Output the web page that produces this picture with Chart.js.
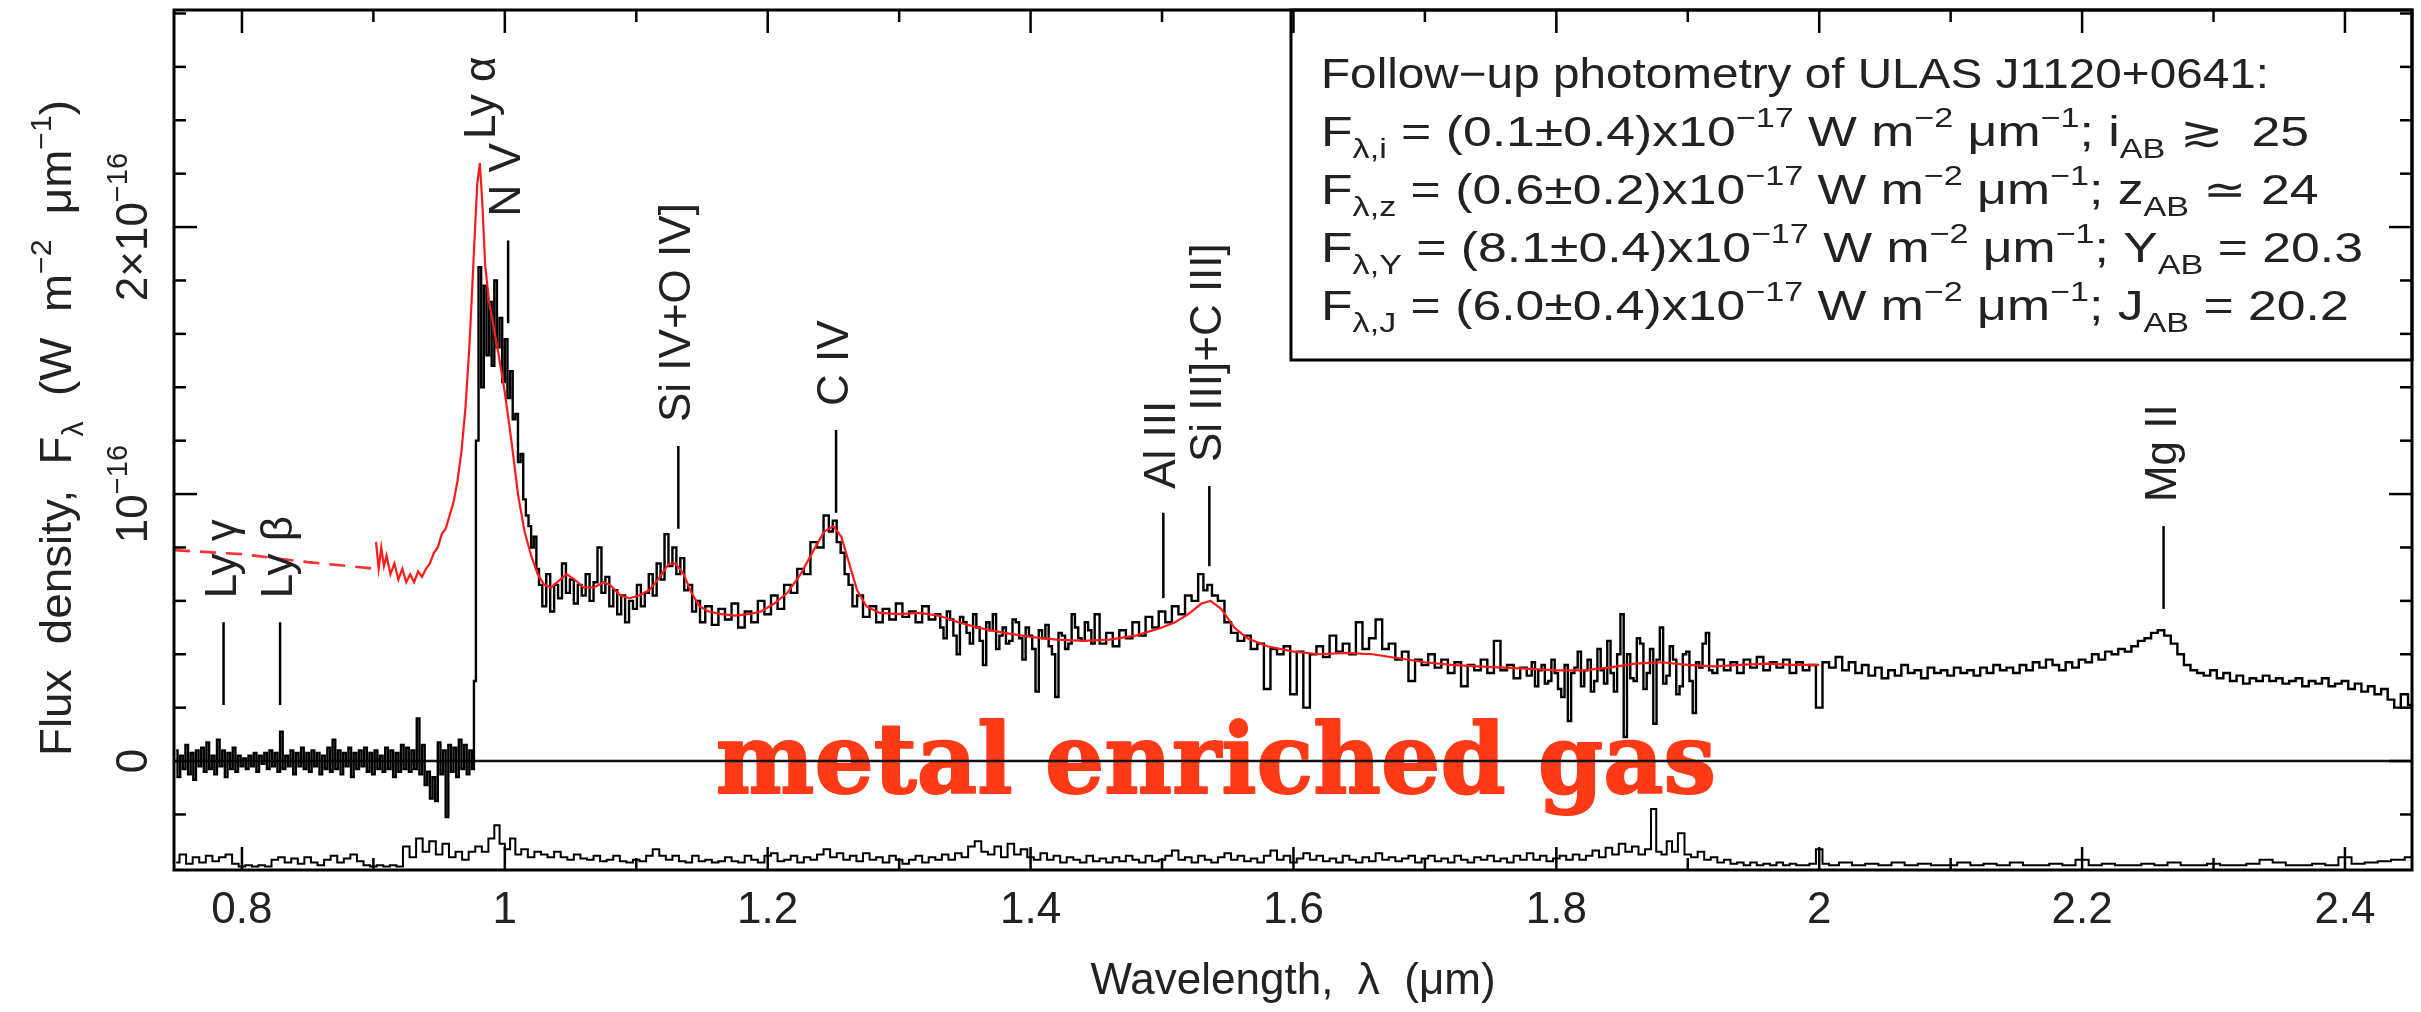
<!DOCTYPE html>
<html>
<head>
<meta charset="utf-8">
<script src="https://cdn.jsdelivr.net/npm/chart.js@4.4.0/dist/chart.umd.min.js"></script>
<style>
  html, body { margin: 0; padding: 0; background: #fff; }
  #wrap { width: 2421px; height: 1012px; }
</style>
</head>
<body>
<div id="wrap"><canvas id="spec" width="2421" height="1012"></canvas></div>
<script>
window.onload = drawSpectrum;

// flux in units of 1e-16 W m^-2 um^-1, wavelength in um
var xMin = 0.7483, xMax = 2.451, yMin = -0.408, yMax = 2.813;

var xMajorTicks = [0.8, 1.0, 1.2, 1.4, 1.6, 1.8, 2.0, 2.2, 2.4];
var xTickLabels = ["0.8", "1", "1.2", "1.4", "1.6", "1.8", "2", "2.2", "2.4"];
var xMinorTicks = [0.9, 1.1, 1.3, 1.5, 1.7, 1.9, 2.1, 2.3];
var yMajorTicks = [0, 1, 2];
var yTickLabels = [[["0", ""]], [["10", ""], ["\u221216", "sup"]], [["2\u00d710", ""], ["\u221216", "sup"]]];
var yMinorTicks = [-0.2, 0.2, 0.4, 0.6, 0.8, 1.2, 1.4, 1.6, 1.8, 2.2, 2.4, 2.6, 2.8];

// observed spectrum
var specWave = [
  0.750, 0.752, 0.754, 0.756, 0.758, 0.760, 0.762, 0.764, 0.766, 0.768,
  0.770, 0.772, 0.774, 0.776, 0.778, 0.780, 0.782, 0.784, 0.786, 0.788,
  0.790, 0.792, 0.794, 0.796, 0.798, 0.800, 0.802, 0.804, 0.806, 0.808,
  0.810, 0.812, 0.814, 0.816, 0.818, 0.820, 0.822, 0.824, 0.826, 0.828,
  0.830, 0.832, 0.834, 0.836, 0.838, 0.840, 0.842, 0.844, 0.846, 0.848,
  0.850, 0.852, 0.854, 0.856, 0.858, 0.860, 0.862, 0.864, 0.866, 0.868,
  0.870, 0.872, 0.874, 0.876, 0.878, 0.880, 0.882, 0.884, 0.886, 0.888,
  0.890, 0.892, 0.894, 0.896, 0.898, 0.900, 0.902, 0.904, 0.906, 0.908,
  0.910, 0.912, 0.914, 0.916, 0.918, 0.920, 0.922, 0.924, 0.926, 0.928,
  0.930, 0.932, 0.934, 0.936, 0.938, 0.940, 0.942, 0.944, 0.946, 0.948,
  0.950, 0.952, 0.954, 0.956, 0.958, 0.960, 0.962, 0.964, 0.966, 0.968,
  0.970, 0.972, 0.974, 0.976, 0.977, 0.979,
  0.981, 0.983, 0.985, 0.987, 0.989, 0.991, 0.993, 0.995, 0.997, 0.999,
  1.001, 1.003, 1.005, 1.007, 1.009, 1.011, 1.013, 1.015, 1.017, 1.019,
  1.021, 1.023, 1.025, 1.027, 1.030, 1.033, 1.036, 1.039, 1.042, 1.045,
  1.048, 1.051, 1.054, 1.057, 1.060, 1.063, 1.066, 1.069, 1.072, 1.075,
  1.078, 1.081, 1.084, 1.087, 1.090, 1.093, 1.096, 1.099, 1.102, 1.105,
  1.108, 1.111, 1.114, 1.117, 1.120, 1.123, 1.126, 1.129, 1.132, 1.135,
  1.138, 1.141, 1.144, 1.147, 1.150, 1.155, 1.160, 1.165, 1.170, 1.175,
  1.180, 1.185, 1.190, 1.195, 1.200, 1.205, 1.210, 1.215, 1.220, 1.225,
  1.230, 1.235, 1.240, 1.245, 1.248, 1.251, 1.254, 1.257, 1.260, 1.263,
  1.266, 1.270, 1.275, 1.280, 1.285, 1.290, 1.295, 1.300, 1.305, 1.310,
  1.315, 1.320, 1.325,
  1.3300, 1.3325, 1.3350, 1.3375, 1.3400, 1.3425, 1.3450, 1.3475, 1.3500, 1.3525,
  1.3550, 1.3575, 1.3600, 1.3625, 1.3650, 1.3675, 1.3700, 1.3725, 1.3750, 1.3775,
  1.3800, 1.3825, 1.3850, 1.3875, 1.3900, 1.3925, 1.3950, 1.3975, 1.4000, 1.4025,
  1.4050, 1.4075, 1.4100, 1.4125, 1.4150, 1.4175, 1.4200, 1.4225, 1.4250, 1.4275,
  1.4300, 1.4325, 1.4350, 1.4375, 1.4400, 1.4425, 1.4450, 1.4475,
  1.450, 1.455, 1.460,
  1.465, 1.470, 1.475, 1.480, 1.485, 1.490, 1.495, 1.500, 1.505, 1.510,
  1.515, 1.520, 1.525, 1.530, 1.533, 1.536, 1.540, 1.545, 1.550, 1.555,
  1.560, 1.565, 1.570, 1.575, 1.580, 1.585, 1.590, 1.595, 1.600, 1.605,
  1.610, 1.615, 1.620, 1.625, 1.630, 1.635, 1.640, 1.645, 1.650, 1.655,
  1.660, 1.665, 1.670, 1.675, 1.680, 1.685, 1.690, 1.695, 1.700, 1.705,
  1.710, 1.715, 1.720, 1.725, 1.730, 1.735, 1.740, 1.745, 1.750, 1.755,
  1.760, 1.765, 1.770, 1.775,
  1.7800, 1.7825, 1.7850, 1.7875, 1.7900, 1.7925, 1.7950, 1.7975, 1.8000, 1.8025,
  1.8050, 1.8075, 1.8100, 1.8125, 1.8150, 1.8175, 1.8200, 1.8225, 1.8250, 1.8275,
  1.8300, 1.8325, 1.8350, 1.8375, 1.8400, 1.8425, 1.8450, 1.8475, 1.8500, 1.8525,
  1.8550, 1.8575, 1.8600, 1.8625, 1.8650, 1.8675, 1.8700, 1.8725, 1.8750, 1.8775,
  1.8800, 1.8825, 1.8850, 1.8875, 1.8900, 1.8925, 1.8950, 1.8975, 1.9000, 1.9025,
  1.9050, 1.9075, 1.9100, 1.9125, 1.9150, 1.9175,
  1.920, 1.925, 1.930, 1.935, 1.940, 1.945, 1.950,
  1.955, 1.960, 1.965, 1.970, 1.975, 1.980, 1.985, 1.990, 1.995, 2.000,
  2.005, 2.010, 2.015, 2.020, 2.025, 2.030, 2.035, 2.040, 2.045, 2.050,
  2.055, 2.060, 2.065, 2.070, 2.075, 2.080, 2.085, 2.090, 2.095, 2.100,
  2.105, 2.110, 2.115, 2.120, 2.125, 2.130, 2.135, 2.140, 2.145, 2.150,
  2.155, 2.160, 2.165, 2.170, 2.175, 2.180, 2.185, 2.190, 2.195, 2.200,
  2.205, 2.210, 2.215, 2.220, 2.225, 2.230, 2.235, 2.240, 2.245, 2.250,
  2.255, 2.260, 2.265, 2.270, 2.275, 2.280, 2.285, 2.290, 2.295, 2.300,
  2.305, 2.310, 2.315, 2.320, 2.325, 2.330, 2.335, 2.340, 2.345, 2.350,
  2.355, 2.360, 2.365, 2.370, 2.375, 2.380, 2.385, 2.390, 2.395, 2.400,
  2.405, 2.410, 2.415, 2.420, 2.425, 2.430, 2.435, 2.440, 2.445, 2.451
];
var specFlux = [
  0.04, -0.06, 0.02, -0.03, 0.06, -0.05, 0.03, -0.07, 0.04, -0.02,
  0.05, -0.04, 0.07, -0.03, 0.02, -0.05, 0.08, -0.02, 0.04, -0.06,
  0.03, -0.03, 0.05, -0.04, 0.02, -0.02, 0.01, -0.03, 0.02, -0.02,
  0.03, -0.04, 0.02, -0.01, 0.03, -0.03, 0.04, -0.02, 0.03, -0.04,
  0.11, -0.03, 0.02, -0.02, 0.04, -0.05, 0.03, -0.02, 0.05, -0.03,
  0.03, -0.04, 0.04, -0.02, 0.03, -0.05, 0.02, -0.03, 0.05, -0.04,
  0.08, -0.03, 0.04, -0.05, 0.03, -0.02, 0.05, -0.06, 0.03, -0.03,
  0.04, -0.02, 0.05, -0.04, 0.03, -0.05, 0.04, -0.03, 0.02, -0.04,
  0.05, -0.03, 0.04, -0.06, 0.03, -0.04, 0.06, -0.03, 0.05, -0.04,
  0.04, -0.03, 0.16, -0.05, 0.06, -0.09, -0.04, -0.14, -0.06, -0.15,
  0.07, -0.05, 0.04, -0.21, 0.06, -0.04, 0.05, -0.06, 0.08, -0.03,
  0.06, -0.05, 0.04, -0.03, 0.30, 1.20,
  1.85, 1.40, 1.78, 1.52, 1.72, 1.48, 1.80, 1.55, 1.66, 1.42,
  1.58, 1.36, 1.46, 1.28, 1.30, 1.12, 1.15, 0.98, 0.92, 0.88,
  0.80, 0.84, 0.72, 0.66, 0.58, 0.70, 0.56, 0.66, 0.61, 0.74,
  0.63, 0.68, 0.59, 0.66, 0.62, 0.70, 0.60, 0.67, 0.80, 0.63,
  0.69, 0.58, 0.64, 0.55, 0.62, 0.52, 0.60, 0.57, 0.66, 0.58,
  0.63, 0.70, 0.62, 0.74, 0.68, 0.85, 0.73, 0.80, 0.70, 0.76,
  0.64, 0.66, 0.56, 0.60, 0.52, 0.58, 0.51, 0.57, 0.53, 0.59,
  0.50, 0.56, 0.52, 0.60, 0.55, 0.62, 0.57, 0.66, 0.63, 0.72,
  0.70, 0.82, 0.80, 0.92, 0.86, 0.90, 0.82, 0.78, 0.70, 0.66,
  0.58, 0.62, 0.54, 0.58, 0.52, 0.57, 0.53, 0.59, 0.54, 0.56,
  0.52, 0.58, 0.53,
  0.55, 0.50, 0.46, 0.56, 0.53, 0.47, 0.40, 0.54, 0.52, 0.48,
  0.44, 0.55, 0.50, 0.45, 0.36, 0.52, 0.49, 0.55, 0.42, 0.47,
  0.50, 0.44, 0.45, 0.53, 0.52, 0.46, 0.38, 0.50, 0.47, 0.42,
  0.26, 0.49, 0.46, 0.51, 0.43, 0.40, 0.24, 0.48, 0.47, 0.42,
  0.44, 0.55, 0.50, 0.46, 0.45, 0.52, 0.49, 0.44,
  0.55, 0.44, 0.48,
  0.43, 0.49, 0.46, 0.52, 0.47, 0.54, 0.50, 0.56, 0.52, 0.58,
  0.55, 0.62, 0.60, 0.70, 0.64, 0.66, 0.62, 0.60, 0.52, 0.48,
  0.45, 0.47, 0.42, 0.44, 0.27, 0.42, 0.40, 0.43, 0.25, 0.41,
  0.20, 0.40, 0.43, 0.39, 0.47, 0.41, 0.44, 0.40, 0.52, 0.42,
  0.46, 0.53, 0.42, 0.44, 0.38, 0.41, 0.30, 0.38, 0.36, 0.40,
  0.35, 0.38, 0.33, 0.37, 0.28, 0.36, 0.34, 0.38, 0.33, 0.45,
  0.34, 0.36, 0.31, 0.35,
  0.32, 0.37, 0.28, 0.34, 0.36, 0.29, 0.30, 0.38, 0.33, 0.27,
  0.24, 0.36, 0.15, 0.33, 0.35, 0.41, 0.28, 0.34, 0.38, 0.26,
  0.30, 0.42, 0.34, 0.29, 0.45, 0.33, 0.26, 0.40, 0.55, 0.09,
  0.40, 0.31, 0.30, 0.46, 0.44, 0.27, 0.33, 0.42, 0.14, 0.38,
  0.50, 0.29, 0.32, 0.43, 0.38, 0.25, 0.28, 0.40, 0.41, 0.30,
  0.18, 0.37, 0.35, 0.44, 0.48, 0.34,
  0.33, 0.38, 0.34, 0.37, 0.33, 0.38, 0.35,
  0.39, 0.34, 0.37, 0.35, 0.38, 0.33, 0.37, 0.34, 0.36, 0.20,
  0.37, 0.35, 0.39, 0.34, 0.37, 0.33, 0.36, 0.32, 0.35, 0.31,
  0.34, 0.32, 0.36, 0.33, 0.34, 0.31, 0.35, 0.33, 0.34, 0.32,
  0.35, 0.33, 0.34, 0.32, 0.35, 0.33, 0.36, 0.34, 0.35, 0.33,
  0.36, 0.34, 0.37, 0.35, 0.38, 0.36, 0.34, 0.37, 0.35, 0.38,
  0.37, 0.40, 0.38, 0.41, 0.40, 0.42, 0.41, 0.43, 0.45, 0.46,
  0.48, 0.49, 0.47, 0.44, 0.40, 0.36, 0.34, 0.33, 0.32, 0.34,
  0.31, 0.33, 0.30, 0.32, 0.29, 0.31, 0.30, 0.32, 0.30, 0.31,
  0.29, 0.30, 0.31, 0.28, 0.30, 0.29, 0.31, 0.28, 0.29, 0.30,
  0.27, 0.29, 0.26, 0.28, 0.25, 0.27, 0.23, 0.20, 0.25, 0.21
];

// error spectrum, plotted near the bottom
var errWave = [
  0.750, 0.755, 0.760, 0.765, 0.770, 0.775, 0.780, 0.785, 0.790, 0.795,
  0.800, 0.805, 0.810, 0.815, 0.820, 0.825, 0.830, 0.835, 0.840, 0.845,
  0.850, 0.855, 0.860, 0.865, 0.870, 0.875, 0.880, 0.885, 0.890, 0.895,
  0.900, 0.905, 0.910, 0.915, 0.920, 0.925, 0.930, 0.935, 0.940, 0.945,
  0.950, 0.955, 0.960, 0.965, 0.970, 0.975, 0.980, 0.985, 0.990, 0.994,
  0.998, 1.002, 1.006, 1.010, 1.015, 1.020, 1.025, 1.030, 1.035, 1.040,
  1.045, 1.050, 1.055, 1.060, 1.065, 1.070, 1.075, 1.080, 1.085, 1.090,
  1.095, 1.100, 1.105, 1.110, 1.115, 1.120, 1.125, 1.130, 1.135, 1.140,
  1.145, 1.150, 1.155, 1.160, 1.165, 1.170, 1.175, 1.180, 1.185, 1.190,
  1.195, 1.200, 1.205, 1.210, 1.215, 1.220, 1.225, 1.230, 1.235, 1.240,
  1.245, 1.250, 1.255, 1.260, 1.265, 1.270, 1.275, 1.280, 1.285, 1.290,
  1.295, 1.300, 1.305, 1.310, 1.315, 1.320, 1.325, 1.330, 1.335, 1.340,
  1.345, 1.350, 1.355, 1.360, 1.365, 1.370, 1.375, 1.380, 1.385, 1.390,
  1.395, 1.400, 1.405, 1.410, 1.415, 1.420, 1.425, 1.430, 1.435, 1.440,
  1.445, 1.450, 1.455, 1.460, 1.465, 1.470, 1.475, 1.480, 1.485, 1.490,
  1.495, 1.500, 1.505, 1.510, 1.515, 1.520, 1.525, 1.530, 1.535, 1.540,
  1.545, 1.550, 1.555, 1.560, 1.565, 1.570, 1.575, 1.580, 1.585, 1.590,
  1.595, 1.600, 1.605, 1.610, 1.615, 1.620, 1.625, 1.630, 1.635, 1.640,
  1.645, 1.650, 1.655, 1.660, 1.665, 1.670, 1.675, 1.680, 1.685, 1.690,
  1.695, 1.700, 1.705, 1.710, 1.715, 1.720, 1.725, 1.730, 1.735, 1.740,
  1.745, 1.750, 1.755, 1.760, 1.765, 1.770, 1.775, 1.780, 1.785, 1.790,
  1.795, 1.800, 1.805, 1.810, 1.815, 1.820, 1.825, 1.830, 1.835, 1.840,
  1.845, 1.850, 1.855, 1.860, 1.865, 1.870, 1.874, 1.878, 1.882, 1.886,
  1.890, 1.895, 1.900, 1.905, 1.910, 1.915, 1.920, 1.925, 1.930, 1.935,
  1.940, 1.945, 1.950, 1.955, 1.960, 1.965, 1.970, 1.975, 1.980, 1.985,
  1.990, 1.995, 2.000, 2.005, 2.010, 2.020, 2.030, 2.040, 2.050, 2.060,
  2.070, 2.080, 2.090, 2.100, 2.110, 2.120, 2.130, 2.140, 2.150, 2.160,
  2.170, 2.180, 2.190, 2.200, 2.210, 2.220, 2.230, 2.240, 2.250, 2.260,
  2.270, 2.280, 2.290, 2.300, 2.310, 2.320, 2.330, 2.340, 2.350, 2.360,
  2.370, 2.380, 2.390, 2.400, 2.410, 2.420, 2.430, 2.440, 2.451
];
var errFlux = [
  -0.38, -0.35, -0.385, -0.36, -0.38, -0.355, -0.375, -0.36, -0.35, -0.385,
  -0.395, -0.39, -0.395, -0.39, -0.395, -0.37, -0.36, -0.38, -0.365, -0.385,
  -0.36, -0.38, -0.39, -0.37, -0.355, -0.38, -0.365, -0.35, -0.375, -0.39,
  -0.395, -0.39, -0.395, -0.39, -0.395, -0.32, -0.36, -0.29, -0.34, -0.30,
  -0.35, -0.31, -0.36, -0.34, -0.37, -0.34, -0.32, -0.34, -0.29, -0.24,
  -0.31, -0.33, -0.29, -0.35, -0.33, -0.36, -0.34, -0.35, -0.36, -0.34,
  -0.36, -0.37, -0.35, -0.365, -0.37, -0.355, -0.375, -0.37, -0.355, -0.375,
  -0.38, -0.37, -0.375, -0.355, -0.33, -0.355, -0.37, -0.355, -0.375, -0.38,
  -0.355, -0.375, -0.37, -0.38, -0.375, -0.36, -0.375, -0.38, -0.355, -0.37,
  -0.38, -0.355, -0.345, -0.375, -0.37, -0.355, -0.38, -0.36, -0.37, -0.35,
  -0.33, -0.36, -0.345, -0.37, -0.355, -0.375, -0.345, -0.37, -0.36, -0.38,
  -0.355, -0.37, -0.385, -0.37, -0.355, -0.38, -0.36, -0.37, -0.35, -0.37,
  -0.345, -0.36, -0.32, -0.30, -0.34, -0.35, -0.32, -0.36, -0.31, -0.35,
  -0.33, -0.36, -0.37, -0.345, -0.37, -0.355, -0.38, -0.36, -0.37, -0.38,
  -0.355, -0.375, -0.365, -0.38, -0.36, -0.375, -0.355, -0.37, -0.38, -0.355,
  -0.375, -0.37, -0.355, -0.335, -0.37, -0.36, -0.38, -0.355, -0.37, -0.38,
  -0.36, -0.345, -0.37, -0.355, -0.375, -0.365, -0.38, -0.355, -0.335, -0.37,
  -0.355, -0.38, -0.365, -0.345, -0.37, -0.355, -0.375, -0.365, -0.38, -0.355,
  -0.37, -0.38, -0.36, -0.375, -0.345, -0.37, -0.36, -0.375, -0.365, -0.355,
  -0.38, -0.365, -0.355, -0.375, -0.365, -0.38, -0.355, -0.37, -0.38, -0.36,
  -0.37, -0.355, -0.375, -0.365, -0.38, -0.355, -0.37, -0.345, -0.37, -0.355,
  -0.375, -0.365, -0.355, -0.37, -0.35, -0.37, -0.355, -0.335, -0.36, -0.325,
  -0.35, -0.31, -0.34, -0.32, -0.35, -0.33, -0.18, -0.34, -0.35, -0.30,
  -0.34, -0.27, -0.35, -0.36, -0.34, -0.37, -0.36, -0.38, -0.37, -0.385,
  -0.38, -0.39, -0.38, -0.39, -0.385, -0.39, -0.38, -0.39, -0.385, -0.39,
  -0.39, -0.385, -0.33, -0.385, -0.39, -0.38, -0.39, -0.385, -0.39, -0.38,
  -0.39, -0.385, -0.39, -0.39, -0.38, -0.39, -0.385, -0.39, -0.38, -0.39,
  -0.39, -0.385, -0.39, -0.37, -0.39, -0.385, -0.39, -0.39, -0.385, -0.39,
  -0.38, -0.39, -0.39, -0.385, -0.39, -0.39, -0.385, -0.37, -0.38, -0.39,
  -0.39, -0.385, -0.39, -0.36, -0.385, -0.38, -0.375, -0.37, -0.36
];

// composite quasar template, red
var modelDashWave = [0.7483, 0.800, 0.850, 0.902];
var modelDashFlux = [0.79, 0.775, 0.745, 0.72];
var modelWave = [
  0.902, 0.904, 0.906, 0.908, 0.910, 0.913, 0.916, 0.919, 0.922, 0.925,
  0.928, 0.931, 0.934, 0.937, 0.940, 0.943, 0.946, 0.949, 0.952, 0.955,
  0.958, 0.961, 0.964, 0.967, 0.970, 0.973, 0.975, 0.977, 0.979, 0.981,
  0.983, 0.985, 0.988, 0.991, 0.995, 1.000, 1.005, 1.010, 1.015, 1.020,
  1.025, 1.030, 1.035, 1.040, 1.047, 1.053, 1.060, 1.068, 1.075, 1.080,
  1.088, 1.095, 1.102, 1.110, 1.118, 1.125, 1.130, 1.136, 1.142, 1.148,
  1.155, 1.165, 1.175, 1.185, 1.195, 1.205, 1.215, 1.225, 1.235, 1.243,
  1.250, 1.256, 1.262, 1.268, 1.275, 1.285, 1.300, 1.315, 1.330, 1.345,
  1.360, 1.380, 1.400, 1.420, 1.440, 1.460, 1.480, 1.500, 1.510, 1.520,
  1.530, 1.537, 1.545, 1.555, 1.565, 1.580, 1.600, 1.620, 1.640, 1.660,
  1.680, 1.700, 1.720, 1.740, 1.760, 1.780, 1.800, 1.820, 1.840, 1.860,
  1.880, 1.900, 1.920, 1.940, 1.960, 1.980, 2.000
];
var modelFlux = [
  0.82, 0.72, 0.80, 0.73, 0.77, 0.70, 0.74, 0.68, 0.72, 0.67,
  0.70, 0.67, 0.71, 0.69, 0.72, 0.74, 0.78, 0.80, 0.85, 0.87,
  0.92, 0.97, 1.05, 1.16, 1.32, 1.55, 1.75, 1.96, 2.16, 2.24,
  2.08, 1.86, 1.72, 1.64, 1.53, 1.38, 1.20, 1.00, 0.86, 0.77,
  0.70, 0.66, 0.65, 0.67, 0.70, 0.68, 0.65, 0.65, 0.67, 0.66,
  0.62, 0.61, 0.62, 0.64, 0.69, 0.74, 0.74, 0.70, 0.63, 0.58,
  0.56, 0.55, 0.545, 0.55, 0.56, 0.59, 0.63, 0.70, 0.79, 0.86,
  0.88, 0.84, 0.74, 0.64, 0.58, 0.555, 0.55, 0.555, 0.545, 0.52,
  0.50, 0.48, 0.465, 0.455, 0.45, 0.455, 0.47, 0.50, 0.52, 0.55,
  0.59, 0.60, 0.57, 0.50, 0.46, 0.43, 0.41, 0.40, 0.405, 0.40,
  0.385, 0.37, 0.36, 0.355, 0.35, 0.345, 0.34, 0.34, 0.35, 0.365,
  0.37, 0.36, 0.355, 0.36, 0.365, 0.36, 0.36
];

// emission line identifications: wavelength, tick from lineLow to lineHigh
var lineNames = ["Ly \u03b3", "Ly \u03b2", "Ly \u03b1", "N V", "Si IV+O IV]", "C IV", "Al III", "Si III]+C III]", "Mg II"];
var lineWave = [0.786, 0.829, 0.983, 1.0025, 1.132, 1.252, 1.501, 1.536, 2.262];
var lineLow = [0.21, 0.21, 2.24, 1.64, 0.87, 0.93, 0.61, 0.73, 0.57];
var lineHigh = [0.52, 0.52, 2.24, 1.95, 1.18, 1.24, 0.93, 1.03, 0.88];

var photTitle = "Follow\u2212up photometry of ULAS J1120+0641:";
var photBand = ["i", "z", "Y", "J"];
var photFlux = ["(0.1\u00b10.4)", "(0.6\u00b10.2)", "(8.1\u00b10.4)", "(6.0\u00b10.4)"];
var photMag = ["i", "z", "Y", "J"];
var photRel = [" \u2273  25", " \u2243 24", " = 20.3", " = 20.2"];

var bannerText = "metal enriched gas";

var FONT = '"Liberation Sans", Arial, sans-serif';
var TEXT = "#222";

function toPoints(xs, ys) {
  if (xs.length !== ys.length) console.warn("length mismatch", xs.length, ys.length);
  var pts = [];
  for (var i = 0; i < xs.length && i < ys.length; i++) {
    pts.push({ x: xs[i], y: ys[i] });
  }
  return pts;
}

function fontFor(mode, size) {
  var s = mode ? size * 0.66 : size;
  return s + "px " + FONT;
}

function richWidth(ctx, parts, size) {
  var w = 0;
  for (var i = 0; i < parts.length; i++) {
    ctx.font = fontFor(parts[i][1], size);
    w += ctx.measureText(parts[i][0]).width;
  }
  return w;
}

// draws text with super/subscript pieces, x is the left edge
function richText(ctx, parts, x, y, size) {
  var cx = x;
  ctx.textAlign = "left";
  for (var i = 0; i < parts.length; i++) {
    var mode = parts[i][1];
    ctx.font = fontFor(mode, size);
    var dy = mode === "sup" ? -size * 0.45 : (mode === "sub" ? size * 0.28 : 0);
    ctx.fillText(parts[i][0], cx, y + dy);
    cx += ctx.measureText(parts[i][0]).width;
  }
  return cx - x;
}

function segment(ctx, x1, y1, x2, y2) {
  ctx.beginPath();
  ctx.moveTo(x1, y1);
  ctx.lineTo(x2, y2);
  ctx.stroke();
}

function drawAxes(chart) {
  var ctx = chart.ctx, a = chart.chartArea, xs = chart.scales.x, ys = chart.scales.y;
  var i, p, w;
  ctx.save();
  ctx.strokeStyle = "#000";
  ctx.lineWidth = 2.5;
  for (i = 0; i < xMajorTicks.length; i++) {
    p = xs.getPixelForValue(xMajorTicks[i]);
    segment(ctx, p, a.bottom, p, a.bottom - 23);
    segment(ctx, p, a.top, p, a.top + 23);
  }
  for (i = 0; i < xMinorTicks.length; i++) {
    p = xs.getPixelForValue(xMinorTicks[i]);
    segment(ctx, p, a.bottom, p, a.bottom - 12);
    segment(ctx, p, a.top, p, a.top + 12);
  }
  for (i = 0; i < yMajorTicks.length; i++) {
    p = ys.getPixelForValue(yMajorTicks[i]);
    segment(ctx, a.left, p, a.left + 23, p);
    segment(ctx, a.right, p, a.right - 23, p);
  }
  for (i = 0; i < yMinorTicks.length; i++) {
    p = ys.getPixelForValue(yMinorTicks[i]);
    segment(ctx, a.left, p, a.left + 12, p);
    segment(ctx, a.right, p, a.right - 12, p);
  }
  ctx.lineWidth = 3;
  ctx.strokeRect(a.left, a.top, a.right - a.left, a.bottom - a.top);

  ctx.fillStyle = TEXT;
  ctx.textBaseline = "alphabetic";
  ctx.font = "44px " + FONT;
  ctx.textAlign = "center";
  for (i = 0; i < xMajorTicks.length; i++) {
    ctx.fillText(xTickLabels[i], xs.getPixelForValue(xMajorTicks[i]), a.bottom + 53);
  }
  // x title
  var xt = [["Wavelength,  \u03bb  (\u03bcm)", ""]];
  w = richWidth(ctx, xt, 44);
  richText(ctx, xt, (a.left + a.right) / 2 - w / 2, a.bottom + 124, 44);

  // y tick labels, turned to read upwards
  for (i = 0; i < yMajorTicks.length; i++) {
    p = ys.getPixelForValue(yMajorTicks[i]);
    ctx.save();
    ctx.translate(a.left - 27, p);
    ctx.rotate(-Math.PI / 2);
    w = richWidth(ctx, yTickLabels[i], 44);
    richText(ctx, yTickLabels[i], -w / 2, 0, 44);
    ctx.restore();
  }
  // y title, stretched along the axis like the plot device font
  var yt = [["Flux  density,  F", ""], ["\u03bb", "sub"], ["  (W  m", ""], ["\u22122", "sup"], ["  \u03bcm", ""], ["\u22121", "sup"], [")", ""]];
  ctx.save();
  ctx.translate(a.left - 103, 428);
  ctx.rotate(-Math.PI / 2);
  w = richWidth(ctx, yt, 44);
  ctx.scale(656 / w, 1);
  richText(ctx, yt, -w / 2, 0, 44);
  ctx.restore();
  ctx.restore();
}

function drawLines(chart) {
  var ctx = chart.ctx, xs = chart.scales.x, ys = chart.scales.y;
  ctx.save();
  ctx.strokeStyle = "#000";
  ctx.lineWidth = 2.5;
  ctx.fillStyle = TEXT;
  ctx.font = "44px " + FONT;
  for (var i = 0; i < lineNames.length; i++) {
    var px = xs.getPixelForValue(lineWave[i]);
    var lo = ys.getPixelForValue(lineLow[i]);
    var hi = ys.getPixelForValue(lineHigh[i]);
    if (lo - hi > 1) segment(ctx, px, lo, px, hi);
    ctx.save();
    ctx.translate(px, hi - 24);
    ctx.rotate(-Math.PI / 2);
    ctx.textAlign = "left";
    ctx.textBaseline = "middle";
    ctx.fillText(lineNames[i], 0, 0);
    ctx.restore();
  }
  ctx.restore();
}

function drawPhotometry(chart) {
  var ctx = chart.ctx, a = chart.chartArea;
  var left = a.right - 1121, bottom = a.top + 350;
  var size = 42, x0 = left + 30, lineGap = 58;
  ctx.save();
  ctx.fillStyle = "#fff";
  ctx.fillRect(left, a.top, a.right - left, bottom - a.top);
  ctx.strokeStyle = "#000";
  ctx.lineWidth = 3;
  ctx.strokeRect(left, a.top, a.right - left, bottom - a.top);
  ctx.fillStyle = TEXT;
  ctx.textBaseline = "alphabetic";

  var rows = [[[photTitle, ""]]];
  for (var i = 0; i < photBand.length; i++) {
    rows.push([
      ["F", ""], ["\u03bb," + photBand[i], "sub"],
      [" = " + photFlux[i] + "x10", ""], ["\u221217", "sup"],
      [" W m", ""], ["\u22122", "sup"], [" \u03bcm", ""], ["\u22121", "sup"],
      ["; " + photMag[i], ""], ["AB", "sub"], [photRel[i], ""]
    ]);
  }
  // the flux rows are spread to the box width, the heading a little narrower
  var sx = 1042 / richWidth(ctx, rows[3], size);
  var sTitle = 948 / richWidth(ctx, rows[0], size);
  for (var r = 0; r < rows.length; r++) {
    ctx.save();
    ctx.translate(x0, 0);
    ctx.scale(r === 0 ? sTitle : sx, 1);
    richText(ctx, rows[r], 0, a.top + 78 + r * lineGap, size);
    ctx.restore();
  }
  ctx.restore();
}

function drawBanner(chart) {
  var ctx = chart.ctx, xs = chart.scales.x, ys = chart.scales.y;
  ctx.save();
  ctx.font = 'bold 98px "DejaVu Serif", serif';
  ctx.fillStyle = "#ff3a17";
  ctx.strokeStyle = "#ff3a17";
  ctx.lineWidth = 2;
  ctx.lineJoin = "round";
  ctx.textAlign = "left";
  ctx.textBaseline = "alphabetic";
  var w = ctx.measureText(bannerText).width;
  var x0 = xs.getPixelForValue(1.1605), x1 = xs.getPixelForValue(1.9215);
  ctx.translate(x0, ys.getPixelForValue(-0.12));
  ctx.scale((x1 - x0) / w, 1);
  ctx.fillText(bannerText, 0, 0);
  ctx.strokeText(bannerText, 0, 0);
  ctx.restore();
}

var annotate = {
  id: "annotate",
  beforeDatasetsDraw: function (chart) {
    drawBanner(chart);
  },
  afterDatasetsDraw: function (chart) {
    drawLines(chart);
    drawPhotometry(chart);
    drawAxes(chart);
  }
};

function drawSpectrum() {
  var canvas = document.getElementById("spec");
  new Chart(canvas, {
    type: "line",
    data: {
      datasets: [
        { data: toPoints(modelWave, modelFlux), borderColor: "#ff1a1a", borderWidth: 2.2, pointRadius: 0, tension: 0 },
        { data: toPoints(modelDashWave, modelDashFlux), borderColor: "#ff3030", borderWidth: 2.6, borderDash: [16, 10], pointRadius: 0 },
        { data: toPoints(specWave, specFlux), borderColor: "#000", borderWidth: 2.4, pointRadius: 0, stepped: "middle" },
        { data: toPoints([xMin, xMax], [0, 0]), borderColor: "#111", borderWidth: 2.5, pointRadius: 0 },
        { data: toPoints(errWave, errFlux), borderColor: "#000", borderWidth: 2, pointRadius: 0, stepped: "middle" }
      ]
    },
    options: {
      responsive: false,
      animation: false,
      devicePixelRatio: 1,
      events: [],
      layout: { padding: { left: 174, right: 9, top: 10, bottom: 142 } },
      plugins: { legend: { display: false }, tooltip: { enabled: false } },
      scales: {
        x: { type: "linear", min: xMin, max: xMax, display: false },
        y: { type: "linear", min: yMin, max: yMax, display: false }
      }
    },
    plugins: [annotate]
  });
}
</script>
</body>
</html>
